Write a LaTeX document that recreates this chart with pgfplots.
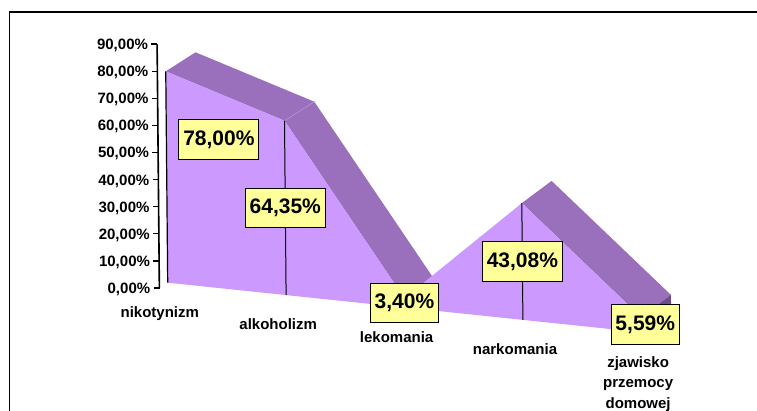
\documentclass[border=0pt]{standalone}
\usepackage{fontspec}
\setmainfont{Liberation Sans}
\usepackage{pgfplots}
\pgfplotsset{compat=1.18}
\definecolor{lightv}{HTML}{CC99FF}
\definecolor{darkv}{HTML}{9A70BC}
\definecolor{wallv}{HTML}{6B4E85}
\definecolor{edgev}{HTML}{B592D6}
\definecolor{lab}{HTML}{FFFF99}
\begin{document}
\begin{tikzpicture}[x=1pt,y=1pt]
\path[use as bounding box] (0,0) rectangle (757,411);
\fill[white] (0,0) rectangle (757,411);
\draw[black,line width=1.4pt] (9.5,0) -- (9.5,399) -- (757,399);
\begin{axis}[
  at={(167.7pt,128.3pt)}, anchor=origin,
  x={(118.4pt,-12.4pt)}, y={(-0.025pt,2.71pt)},
  xmin=-0.0709, xmax=4.5, ymin=-2.39, ymax=87.61,
  clip=false,
  axis y line=left, axis x line=bottom,
  axis line style={-},
  x axis line style={opacity=0},
  xtick style={opacity=0},
  tick align=outside, major tick length=4pt,
  ytick={-2.39,7.61,17.61,27.61,37.61,47.61,57.61,67.61,77.61,87.61},
  yticklabels={{0,00\%},{10,00\%},{20,00\%},{30,00\%},{40,00\%},{50,00\%},{60,00\%},{70,00\%},{80,00\%},{90,00\%}},
  yticklabel style={anchor=east,inner sep=0pt,xshift=-5pt,yshift=-1.5pt,font=\fontsize{15}{18}\selectfont\bfseries},
  xtick={0,1,2,3,4.04},
  xticklabels={nikotynizm,alkoholizm,lekomania,narkomania,{zjawisko\\przemocy\\domowej}},
  xticklabel style={anchor=north,align=center,inner sep=0pt,xshift=-8pt,yshift=-13pt,font=\fontsize{15}{20.5}\selectfont\bfseries},
]
% depth bands: front point to back point
\addplot[fill=darkv,draw=none] coordinates {(0,78) (0.2534,86.17) (1.2534,72.52) (1,64.35)} -- cycle;
\addplot[fill=darkv,draw=none] coordinates {(1,64.35) (1.2534,72.52) (2.2534,11.57) (2,3.40)} -- cycle;
\addplot[edgev,line width=0.6pt] coordinates {(1,64.35) (1.2534,72.52)};
\addplot[fill=darkv,draw=none] coordinates {(3,43.08) (3.2534,52.45) (4.2534,14.96) (4,5.59)} -- cycle;
\addplot[fill=wallv,draw=none] coordinates {(4,5.59) (4.2534,14.96) (4.2534,8.17) (4,0)} -- cycle;
% front area
\addplot[fill=lightv,draw=none] coordinates {(0,0) (0,78) (1,64.35) (2,3.40) (3,43.08) (4,5.59) (4,0)} -- cycle;
% drop lines
\addplot[black,line width=1.2pt] coordinates {(0,0) (0,78)};
\addplot[black,line width=1pt] coordinates {(1,0) (1,64.35)};
\addplot[black,line width=1pt] coordinates {(3,0) (3,43.08)};
% value axis and its ticks
\addplot[black,line width=1.6pt] coordinates {(-0.0709,-2.39) (-0.0709,87.61)};
\addplot[only marks,mark=-,mark size=3pt,mark options={black,line width=1.3pt}] coordinates {
  (-0.095,-2.39) (-0.095,7.61) (-0.095,17.61) (-0.095,27.61) (-0.095,37.61)
  (-0.095,47.61) (-0.095,57.61) (-0.095,67.61) (-0.095,77.61) (-0.095,87.61)};
% data labels
\addplot[only marks,mark=none,point meta=explicit symbolic,
  nodes near coords,
  every node near coord/.append style={anchor=center,fill=lab,draw=black,line width=1pt,
    inner xsep=4.4pt,inner ysep=0pt,minimum height=39.6pt,
    font=\fontsize{21}{25}\selectfont\bfseries}]
  coordinates {
  (0.444,54.8) [78,00\%]
  (1,32.18) [64,35\%]
  (2,1.70) [3,40\%]
  (3,21.54) [43,08\%]
  (4.034,3.03) [5,59\%]
};
\end{axis}
\end{tikzpicture}
\end{document}
